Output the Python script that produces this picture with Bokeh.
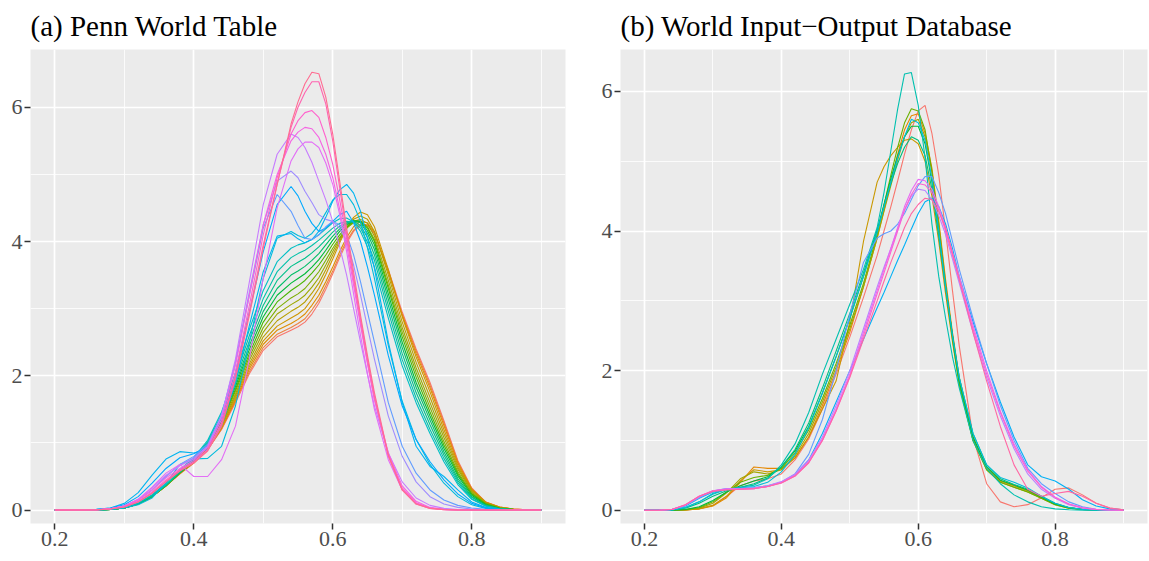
import math
from bokeh.plotting import figure
from bokeh.layouts import row
from bokeh.models import Range1d, FixedTicker
from bokeh.embed import file_html
from bokeh.resources import INLINE

# ---------------- data ----------------
x_grid = [0.20, 0.22, 0.24, 0.26, 0.28, 0.30, 0.32, 0.34, 0.36, 0.38, 0.40, 0.42,
          0.44, 0.46, 0.48, 0.50, 0.52, 0.54, 0.56, 0.58, 0.60, 0.62, 0.64, 0.66,
          0.68, 0.70, 0.72, 0.74, 0.76, 0.78, 0.80, 0.82, 0.84, 0.86, 0.88, 0.90]
# extra read-off points around the peaks
x_mid = [0.55, 0.57, 0.59, 0.61, 0.63, 0.65]

x_ticks = [0.2, 0.4, 0.6, 0.8]
x_labels = ["0.2", "0.4", "0.6", "0.8"]
y_ticks = [0, 2, 4, 6]
y_labels = ["0", "2", "4", "6"]

# (a) Penn World Table: densities, earliest (red/olive) to latest (pink)
pwt_curves = [
    [0,0,0,0,0.01,0.03,0.09,0.2,0.36,0.54,0.7,0.9,1.2,1.6,2.03,2.38,2.58,2.68,2.8,3.08,3.52,3.98,4.24,4.12,3.58,2.95,2.4,1.9,1.33,0.74,0.33,0.12,0.045,0.015,0.004,0],
    [0,0,0,0,0.01,0.03,0.09,0.2,0.36,0.54,0.7,0.9,1.21,1.62,2.06,2.42,2.62,2.72,2.85,3.13,3.56,4.01,4.26,4.12,3.56,2.92,2.37,1.86,1.3,0.72,0.32,0.12,0.045,0.015,0.004,0],
    [0,0,0,0,0.01,0.03,0.09,0.2,0.36,0.55,0.71,0.91,1.22,1.64,2.1,2.47,2.68,2.78,2.92,3.2,3.62,4.06,4.3,4.14,3.55,2.9,2.33,1.82,1.26,0.7,0.31,0.12,0.045,0.015,0.004,0],
    [0,0,0,0,0.01,0.03,0.09,0.2,0.36,0.55,0.71,0.92,1.24,1.67,2.14,2.52,2.74,2.86,3.0,3.3,3.74,4.2,4.44,4.22,3.58,2.88,2.28,1.76,1.2,0.67,0.3,0.11,0.04,0.012,0.003,0],
    [0,0,0,0,0.01,0.03,0.09,0.2,0.36,0.55,0.72,0.93,1.26,1.7,2.18,2.58,2.82,2.96,3.1,3.38,3.8,4.2,4.38,4.15,3.5,2.8,2.2,1.68,1.14,0.64,0.29,0.11,0.04,0.01,0.003,0],
    [0,0,0,0,0.01,0.03,0.09,0.2,0.36,0.55,0.72,0.94,1.28,1.73,2.23,2.65,2.92,3.06,3.2,3.46,3.85,4.2,4.33,4.08,3.42,2.72,2.12,1.6,1.08,0.61,0.27,0.1,0.035,0.01,0.002,0],
    [0,0,0,0,0.01,0.03,0.09,0.2,0.36,0.55,0.72,0.95,1.3,1.77,2.28,2.72,3.0,3.16,3.3,3.55,3.9,4.2,4.3,4.03,3.35,2.65,2.05,1.53,1.02,0.57,0.25,0.1,0.03,0.01,0.002,0],
    [0,0,0,0,0.01,0.03,0.09,0.2,0.37,0.56,0.73,0.96,1.32,1.8,2.33,2.8,3.1,3.27,3.42,3.65,3.96,4.22,4.3,4.0,3.3,2.58,1.98,1.46,0.97,0.54,0.24,0.09,0.03,0.008,0.002,0],
    [0,0,0,0,0.01,0.03,0.09,0.21,0.37,0.56,0.73,0.97,1.34,1.84,2.39,2.88,3.2,3.38,3.52,3.73,4.02,4.25,4.3,3.95,3.22,2.5,1.9,1.4,0.92,0.51,0.22,0.08,0.025,0.007,0.002,0],
    [0,0,0,0,0.01,0.03,0.1,0.21,0.37,0.56,0.74,0.98,1.36,1.88,2.45,2.96,3.3,3.5,3.63,3.82,4.08,4.27,4.28,3.88,3.14,2.42,1.83,1.34,0.87,0.47,0.2,0.07,0.02,0.006,0.001,0],
    [0,0,0,0,0.01,0.03,0.1,0.21,0.37,0.57,0.75,1.0,1.39,1.93,2.52,3.05,3.42,3.63,3.75,3.92,4.14,4.28,4.24,3.8,3.05,2.33,1.75,1.27,0.82,0.44,0.19,0.07,0.02,0.005,0.001,0],
    [0,0,0,0,0.01,0.04,0.1,0.22,0.38,0.58,0.76,1.02,1.42,1.98,2.6,3.15,3.55,3.76,3.87,4.02,4.2,4.3,4.2,3.72,2.96,2.24,1.67,1.2,0.77,0.41,0.17,0.06,0.018,0.005,0.001,0],
    [0,0,0,0,0.01,0.04,0.11,0.23,0.4,0.6,0.78,1.04,1.46,2.04,2.69,3.27,3.7,3.9,3.98,4.1,4.28,4.35,4.15,3.62,2.86,2.15,1.6,1.14,0.72,0.38,0.16,0.06,0.016,0.004,0.001,0],
    [0,0,0,0,0.01,0.03,0.08,0.18,0.4,0.68,0.76,0.77,0.95,1.55,2.5,3.45,4.05,4.15,4.05,4.25,4.62,4.7,4.3,3.45,2.45,1.62,1.05,0.68,0.4,0.2,0.08,0.025,0.008,0.002,0,0],
    [0,0,0,0.01,0.03,0.1,0.26,0.52,0.76,0.87,0.85,0.9,1.25,1.9,2.75,3.55,4.08,4.12,3.98,4.15,4.6,4.85,4.45,3.6,2.5,1.6,0.95,0.65,0.5,0.3,0.12,0.04,0.012,0.003,0.001,0],
    [0,0,0,0.01,0.03,0.08,0.2,0.4,0.62,0.78,0.84,0.95,1.35,2.05,2.95,3.85,4.55,4.82,4.45,4.15,4.3,4.45,4.0,3.2,2.3,1.55,1.05,0.72,0.45,0.24,0.1,0.035,0.01,0.003,0.001,0],
    [0,0,0,0.005,0.02,0.06,0.15,0.3,0.5,0.68,0.8,0.98,1.42,2.2,3.2,4.2,4.7,4.45,4.05,4.1,4.3,4.1,3.4,2.5,1.6,0.95,0.55,0.3,0.15,0.07,0.03,0.01,0.003,0.001,0,0],
    [0,0,0,0.005,0.02,0.06,0.15,0.3,0.5,0.67,0.78,0.95,1.4,2.2,3.25,4.25,4.9,5.05,4.75,4.4,4.3,4.0,3.2,2.25,1.4,0.8,0.42,0.2,0.09,0.04,0.015,0.005,0.001,0,0,0],
    [0,0,0,0.005,0.02,0.06,0.16,0.33,0.52,0.66,0.76,0.95,1.4,2.25,3.4,4.55,5.3,5.6,5.4,4.9,4.3,3.5,2.5,1.55,0.85,0.42,0.18,0.07,0.025,0.008,0.002,0,0,0,0,0],
    [0,0,0,0.005,0.02,0.06,0.16,0.34,0.55,0.68,0.5,0.5,0.75,1.25,2.25,3.45,4.5,5.2,5.48,5.4,4.85,3.85,2.6,1.5,0.75,0.3,0.1,0.03,0.008,0.002,0,0,0,0,0,0],
    [0,0,0,0.005,0.02,0.06,0.15,0.3,0.48,0.62,0.74,0.93,1.35,2.15,3.2,4.25,5.0,5.5,5.7,5.55,4.95,3.95,2.75,1.65,0.85,0.36,0.13,0.04,0.01,0.002,0,0,0,0,0,0],
    [0,0,0,0.005,0.02,0.05,0.13,0.27,0.45,0.6,0.72,0.9,1.3,2.05,3.05,4.1,4.95,5.6,5.92,5.85,5.15,4.05,2.8,1.65,0.82,0.33,0.11,0.03,0.008,0.002,0,0,0,0,0,0],
    [0,0,0,0.003,0.015,0.045,0.12,0.25,0.43,0.59,0.71,0.89,1.27,1.98,2.95,3.95,4.85,5.7,6.22,6.38,5.5,4.12,2.85,1.7,0.8,0.3,0.09,0.025,0.006,0.001,0,0,0,0,0,0],
    [0,0,0,0.003,0.015,0.045,0.12,0.25,0.42,0.58,0.7,0.88,1.25,1.95,2.9,3.9,4.85,5.75,6.35,6.5,5.6,4.2,2.9,1.75,0.82,0.3,0.09,0.025,0.006,0.001,0,0,0,0,0,0],
]
# values of the same curves at x_mid
pwt_mid = [
    [2.73, 2.92, 3.29, 3.76, 4.15, 4.24],
    [2.78, 2.98, 3.34, 3.80, 4.17, 4.25],
    [2.84, 3.05, 3.40, 3.85, 4.22, 4.28],
    [2.92, 3.14, 3.51, 3.98, 4.36, 4.40],
    [3.02, 3.23, 3.58, 4.01, 4.33, 4.33],
    [3.12, 3.32, 3.65, 4.04, 4.30, 4.27],
    [3.22, 3.42, 3.72, 4.06, 4.28, 4.22],
    [3.34, 3.53, 3.80, 4.10, 4.30, 4.20],
    [3.45, 3.62, 3.87, 4.15, 4.31, 4.16],
    [3.56, 3.72, 3.95, 4.19, 4.31, 4.12],
    [3.69, 3.83, 4.03, 4.23, 4.30, 4.06],
    [3.82, 3.94, 4.11, 4.27, 4.29, 3.99],
    [3.95, 4.03, 4.19, 4.34, 4.29, 3.92],
    [4.09, 4.12, 4.43, 4.70, 4.55, 3.90],
    [4.04, 4.03, 4.36, 4.77, 4.72, 4.05],
    [4.68, 4.27, 4.20, 4.40, 4.28, 3.62],
    [4.24, 4.03, 4.22, 4.25, 3.80, 2.95],
    [4.95, 4.58, 4.33, 4.20, 3.65, 2.72],
    [5.55, 5.18, 4.62, 3.92, 3.00, 2.02],
    [5.38, 5.48, 5.17, 4.40, 3.22, 2.03],
    [5.63, 5.68, 5.30, 4.48, 3.35, 2.18],
    [5.80, 5.95, 5.55, 4.62, 3.42, 2.20],
    [6.00, 6.38, 6.05, 4.80, 3.47, 2.25],
    [6.08, 6.52, 6.15, 4.90, 3.55, 2.30],
]

# (b) World Input-Output Database
wiod_curves = [
    [0,0,0,0.005,0.02,0.07,0.2,0.35,0.42,0.45,0.52,0.72,1.02,1.45,1.95,2.48,3.05,3.65,4.35,5.1,5.72,5.4,4.0,2.35,1.05,0.38,0.12,0.05,0.08,0.18,0.3,0.32,0.22,0.1,0.03,0.005],
    [0,0,0,0.005,0.02,0.06,0.18,0.4,0.62,0.6,0.6,0.75,1.05,1.5,2.0,2.55,3.2,3.9,4.7,5.45,5.68,4.9,3.3,1.9,1.05,0.6,0.42,0.35,0.28,0.18,0.09,0.035,0.012,0.004,0.001,0],
    [0,0,0,0.005,0.02,0.07,0.2,0.42,0.58,0.55,0.58,0.75,1.05,1.45,1.85,2.7,3.85,4.7,5.08,5.3,5.25,4.5,3.1,1.8,1.0,0.6,0.42,0.35,0.28,0.18,0.09,0.035,0.012,0.004,0.001,0],
    [0,0,0,0.005,0.03,0.1,0.25,0.45,0.55,0.52,0.58,0.78,1.1,1.55,2.05,2.6,3.2,3.9,4.65,5.35,5.6,4.85,3.25,1.85,1.02,0.58,0.4,0.33,0.26,0.17,0.08,0.03,0.01,0.003,0.001,0],
    [0,0,0,0.01,0.04,0.12,0.26,0.4,0.47,0.5,0.6,0.82,1.15,1.6,2.1,2.65,3.25,3.95,4.8,5.55,5.72,4.85,3.2,1.8,1.0,0.58,0.4,0.33,0.26,0.17,0.08,0.03,0.01,0.003,0.001,0],
    [0,0,0,0.01,0.05,0.14,0.26,0.35,0.42,0.48,0.62,0.85,1.2,1.68,2.2,2.75,3.35,4.0,4.75,5.35,5.5,4.7,3.2,1.85,1.05,0.62,0.43,0.36,0.29,0.19,0.09,0.035,0.012,0.004,0.001,0],
    [0,0,0.005,0.03,0.1,0.2,0.28,0.33,0.38,0.46,0.62,0.87,1.25,1.75,2.28,2.82,3.4,4.02,4.68,5.2,5.3,4.6,3.2,1.9,1.1,0.65,0.45,0.37,0.3,0.2,0.1,0.04,0.013,0.004,0.001,0],
    [0,0,0.005,0.04,0.12,0.24,0.3,0.33,0.36,0.45,0.65,0.95,1.4,1.95,2.45,2.95,3.45,4.05,5.15,6.25,5.8,4.1,2.75,1.75,1.0,0.6,0.38,0.22,0.12,0.05,0.02,0.007,0.002,0,0,0],
    [0,0,0.005,0.04,0.12,0.23,0.3,0.32,0.34,0.4,0.55,0.8,1.18,1.68,2.2,2.75,3.35,3.98,4.7,5.35,5.55,4.75,3.2,1.9,1.1,0.65,0.47,0.4,0.32,0.2,0.1,0.04,0.013,0.004,0.001,0],
    [0,0,0.01,0.06,0.17,0.26,0.3,0.31,0.32,0.35,0.4,0.5,0.72,1.1,1.55,2.0,2.45,2.9,3.35,3.8,4.25,4.47,4.1,3.35,2.7,2.1,1.55,1.05,0.65,0.48,0.42,0.3,0.15,0.06,0.02,0.005],
    [0,0,0.01,0.07,0.18,0.27,0.31,0.31,0.32,0.34,0.4,0.52,0.8,1.3,2.0,2.8,3.55,3.9,4.0,4.25,4.65,4.78,4.25,3.45,2.75,2.1,1.5,1.0,0.6,0.38,0.24,0.12,0.05,0.015,0.004,0],
    [0,0,0.01,0.07,0.19,0.28,0.31,0.31,0.32,0.35,0.41,0.52,0.72,1.05,1.5,2.0,2.6,3.2,3.75,4.3,4.6,4.45,3.95,3.25,2.55,1.9,1.35,0.88,0.52,0.3,0.17,0.08,0.03,0.01,0.003,0],
    [0,0,0.01,0.08,0.2,0.28,0.3,0.3,0.31,0.34,0.4,0.5,0.7,1.02,1.45,1.95,2.55,3.15,3.75,4.35,4.74,4.6,4.05,3.35,2.65,2.0,1.42,0.95,0.58,0.34,0.19,0.09,0.035,0.01,0.003,0],
    [0,0,0.01,0.08,0.2,0.28,0.3,0.3,0.31,0.34,0.39,0.49,0.68,1.0,1.42,1.92,2.5,3.1,3.7,4.3,4.68,4.55,4.0,3.3,2.6,1.95,1.4,0.92,0.56,0.33,0.18,0.09,0.035,0.01,0.003,0],
    [0,0,0.01,0.08,0.2,0.27,0.29,0.3,0.31,0.34,0.39,0.49,0.68,1.0,1.42,1.9,2.45,3.0,3.55,4.05,4.38,4.45,4.05,3.3,2.55,1.85,1.2,0.65,0.3,0.2,0.24,0.27,0.2,0.1,0.03,0.005],
]
wiod_mid = [
    [4.00, 4.72, 5.45, 5.80, 4.80, 3.15],
    [4.30, 5.10, 5.65, 5.40, 4.15, 2.55],
    [4.92, 5.20, 5.32, 5.00, 3.85, 2.42],
    [4.28, 5.02, 5.55, 5.35, 4.10, 2.50],
    [4.37, 5.20, 5.75, 5.45, 4.05, 2.45],
    [4.38, 5.08, 5.50, 5.25, 3.97, 2.50],
    [4.35, 4.97, 5.35, 5.08, 3.92, 2.52],
    [4.55, 5.75, 6.27, 5.05, 3.35, 2.20],
    [4.35, 5.05, 5.60, 5.30, 4.00, 2.50],
    [3.12, 3.58, 4.03, 4.42, 4.35, 3.75],
    [3.96, 4.10, 4.45, 4.78, 4.55, 3.85],
    [3.48, 4.03, 4.50, 4.58, 4.22, 3.60],
    [3.45, 4.05, 4.58, 4.72, 4.35, 3.70],
    [3.40, 4.00, 4.52, 4.66, 4.30, 3.65],
    [3.28, 3.80, 4.25, 4.47, 4.28, 3.68],
]


# ---------------- styling helpers ----------------
def hue_colour(h, c=100.0, l=65.0):
    hr = math.radians(h)
    u, v = c * math.cos(hr), c * math.sin(hr)
    Xn, Yn, Zn = 95.047, 100.0, 108.883
    un = 4 * Xn / (Xn + 15 * Yn + 3 * Zn)
    vn = 9 * Yn / (Xn + 15 * Yn + 3 * Zn)
    Y = Yn * ((l + 16) / 116) ** 3
    up = u / (13 * l) + un
    vp = v / (13 * l) + vn
    X = 9 * Y * up / (4 * vp)
    Z = -X / 3 - 5 * Y + 3 * Y / vp
    X, Y, Z = X / 100, Y / 100, Z / 100
    r = 3.240479 * X - 1.537150 * Y - 0.498535 * Z
    g = -0.969256 * X + 1.875992 * Y + 0.041556 * Z
    b = 0.055648 * X - 0.204043 * Y + 1.057311 * Z

    def gam(t):
        t = 1.055 * t ** (1 / 2.4) - 0.055 if t > 0.0031308 else 12.92 * t
        return max(0, min(255, round(t * 255)))
    return "#%02X%02X%02X" % (gam(r), gam(g), gam(b))


def palette(n):
    return [hue_colour(15 + 360.0 * i / n) for i in range(n)]


def merged(coarse, mid):
    pts = sorted(list(zip(x_grid, coarse)) + list(zip(x_mid, mid)))
    return [p[0] for p in pts], [p[1] for p in pts]


SERIF = "Liberation Serif"


def make_panel(title, curves, mids, y_range, border_left, border_right, frame_w):
    p = figure(frame_width=frame_w, frame_height=474,
               x_range=Range1d(0.165, 0.935), y_range=y_range,
               output_backend="svg", toolbar_location=None,
               min_border_left=border_left, min_border_right=border_right,
               min_border_top=45, min_border_bottom=40)
    p.title.text = title
    p.title.text_font = SERIF
    p.title.text_font_size = "29px"
    p.title.text_font_style = "normal"
    p.title.text_color = "black"
    p.title.align = "left"
    p.title.standoff = 15
    p.title.offset = 0
    p.background_fill_color = "#EBEBEB"
    p.border_fill_color = "white"
    p.outline_line_color = None

    p.xaxis.ticker = FixedTicker(ticks=x_ticks, minor_ticks=[0.3, 0.5, 0.7, 0.9])
    p.yaxis.ticker = FixedTicker(ticks=y_ticks, minor_ticks=[1, 3, 5])
    p.xaxis.major_label_overrides = {t: s for t, s in zip(x_ticks, x_labels)}
    p.yaxis.major_label_overrides = {t: s for t, s in zip(y_ticks, y_labels)}
    for ax in (p.xaxis, p.yaxis):
        ax.axis_line_color = None
        ax.major_tick_line_color = "#333333"
        ax.major_tick_line_width = 1.5
        ax.major_tick_out = 6
        ax.major_tick_in = 0
        ax.minor_tick_line_color = None
        ax.major_label_text_font = SERIF
        ax.major_label_text_font_size = "22px"
        ax.major_label_text_color = "#4D4D4D"
        ax.major_label_standoff = 2

    for g in (p.xgrid, p.ygrid):
        g.grid_line_color = "white"
        g.grid_line_width = 1.7
        g.minor_grid_line_color = "white"
        g.minor_grid_line_width = 0.8

    cols = palette(len(curves))
    for ys, ms, col in zip(curves, mids, cols):
        xs, yy = merged(ys, ms)
        p.line(xs, yy, line_color=col, line_width=1.1)
    return p


p1 = make_panel("(a) Penn World Table", pwt_curves, pwt_mid,
                Range1d(-0.2, 6.86), 30, 21, 535)
p2 = make_panel("(b) World Input\u2212Output Database", wiod_curves, wiod_mid,
                Range1d(-0.19, 6.6), 34, 2, 527)

layout = row(p1, p2)
open("out.html", "w").write(file_html(layout, INLINE))
